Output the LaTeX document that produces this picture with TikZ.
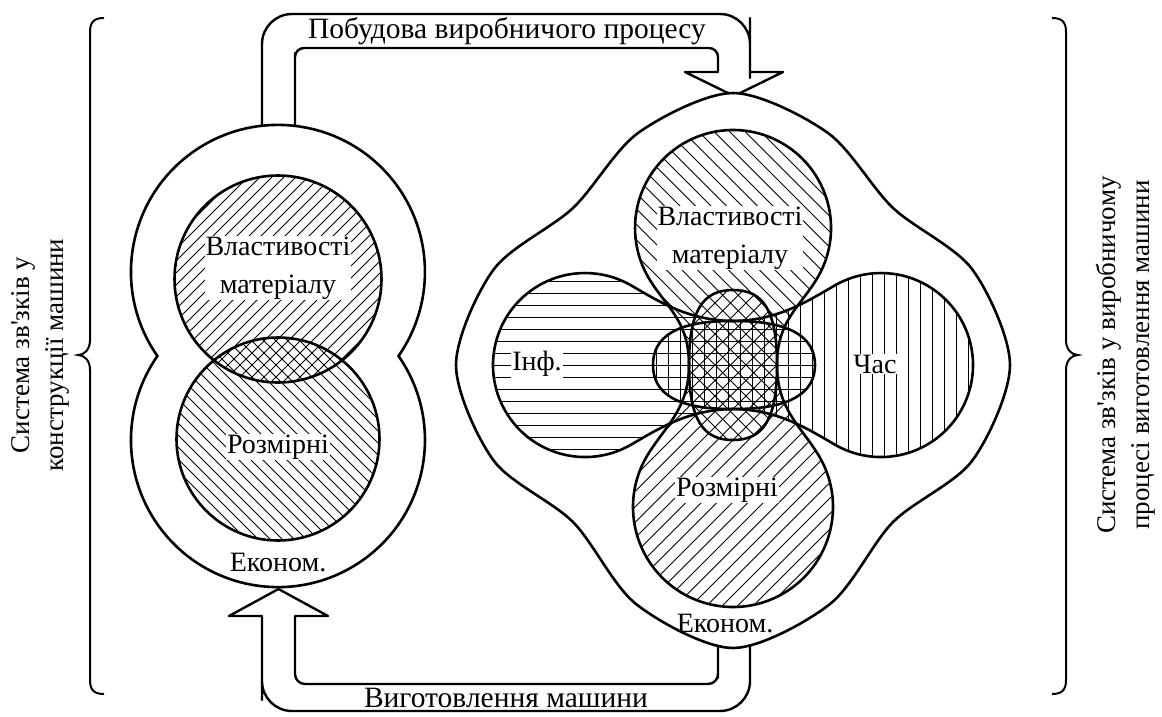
\documentclass[tikz,border=0pt]{standalone}
\usepackage{fontspec}
\setmainfont{Liberation Serif}
\newfontfamily\plainserif{Liberation Serif}
\newcommand\apos{{\plainserif'}}

% hatching: {cx}{cy}{half size}{step}{count}
\newcommand\hatchNE[5]{\foreach \k in {-#5,...,#5}{\draw[hatch] ({#1+\k*#4-#3},{#2+#3}) -- ({#1+\k*#4+#3},{#2-#3});}}
\newcommand\hatchNW[5]{\foreach \k in {-#5,...,#5}{\draw[hatch] ({#1+\k*#4-#3},{#2-#3}) -- ({#1+\k*#4+#3},{#2+#3});}}
\newcommand\hatchH[5]{\foreach \k in {-#5,...,#5}{\draw[hatch] ({#1-#3},{#2+\k*#4}) -- ({#1+#3},{#2+\k*#4});}}
\newcommand\hatchV[5]{\foreach \k in {-#5,...,#5}{\draw[hatch] ({#1+\k*#4},{#2-#3}) -- ({#1+\k*#4},{#2+#3});}}

% outlines of the left figure
\newcommand\eightpath{(157.4,356) arc[start angle=145.1,end angle=394.9,radius=147] arc[start angle=-34.9,end angle=214.9,radius=147] -- cycle}

% outlines of the right figure
\newcommand\infpath{(631,285.3) .. controls (661,302.8) and (690,321) .. (735,321) .. controls (790,321) and (815,337) .. (815,365) .. controls (815,393) and (790,409) .. (735,409) .. controls (690,409) and (661,427.2) .. (631,444.7) arc[start angle=60,end angle=300,radius=92] -- cycle}
\newcommand\chaspath{(835,285.3) .. controls (805,302.8) and (776,321) .. (731,321) .. controls (676,321) and (653,337) .. (653,365) .. controls (653,393) and (676,409) .. (731,409) .. controls (776,409) and (805,427.2) .. (835,444.7) arc[start angle=120,end angle=-120,radius=92] -- cycle}
\newcommand\matpath{(648.1,277) .. controls (665.6,307) and (689,320) .. (689,365) .. controls (689,420) and (703,440) .. (733,440) .. controls (763,440) and (777,420) .. (777,365) .. controls (777,320) and (800.4,307) .. (817.9,277) arc[start angle=30,end angle=-210,radius=98] -- cycle}
\newcommand\rozpath{(646.4,457) .. controls (664,427) and (689,410) .. (689,365) .. controls (689,310) and (703,290) .. (733,290) .. controls (763,290) and (777,310) .. (777,365) .. controls (777,410) and (802,427) .. (819.6,457) arc[start angle=-30,end angle=210,radius=100] -- cycle}

\begin{document}
\begin{tikzpicture}[x=1pt,y=-1pt,
  outline/.style={line width=2.6pt},
  hatch/.style={line width=0.8pt},
  band/.style={line width=2.4pt,line join=round},
  bracket/.style={line width=2pt},
  label/.style={fill=white,inner sep=1pt,align=center,font=\fontsize{28}{38}\selectfont},
  plain label/.style={inner sep=1pt,font=\fontsize{28}{38}\selectfont},
  band label/.style={inner sep=1pt,font=\fontsize{29.5}{34}\selectfont},
  side/.style={rotate=90,align=center,font=\fontsize{27}{34}\selectfont}]
  \useasboundingbox (0,0) rectangle (1162,716);

  % arrows between the figures
  \draw[band] (262,140) [rounded corners=30pt] -- (262,14) -- (750,14) -- (750,48) [sharp corners] -- (750,72) -- (783,72) -- (734,96) -- (685,72) -- (718,72) -- (718,64) [rounded corners=9pt] -- (718,48) -- (295,48) -- (295,62) [sharp corners] -- (295,140);
  \draw[band] (750,620) -- (750,670) [rounded corners=30pt] -- (750,711) -- (262,711) -- (262,670) [sharp corners] -- (262,616) -- (229,616) -- (278.5,589) -- (328,616) -- (295,616) -- (295,668) [rounded corners=10pt] -- (295,684) -- (718,684) -- (718,668) [sharp corners] -- (718,620);
  \node[band label] (build) at (507,31) {Побудова виробничого процесу};
  \node[band label] (make) at (506,698) {Виготовлення машини};

  % left figure
  \draw[outline,fill=white] \eightpath;
  \begin{scope}
    \clip (278,279) circle[radius=103.5];
    \hatchNE{278}{279}{110}{12}{19}
  \end{scope}
  \begin{scope}
    \clip (278,439) circle[radius=101.5];
    \hatchNW{278}{439}{110}{12}{19}
  \end{scope}
  \draw[outline] (278,279) circle[radius=103.5];
  \draw[outline] (278,439) circle[radius=101.5];
  \node[label] (matL) at (278,268) {Властивості\\матеріалу};
  \node[label] (rozL) at (278,447) {Розмірні};
  \node[plain label] (ekL) at (278,563) {Економ.};

  % right figure
  \draw[outline,fill=white] plot[smooth cycle] coordinates {(733,93) (828,133) (893,208) (972,269) (1010,365) (972,461) (893,522) (830,604) (733,648) (636,604) (573,522) (494,461) (456,365) (494,269) (573,208) (638,133)};
  \begin{scope}
    \clip \infpath;
    \hatchH{654}{365}{170}{12}{9}
  \end{scope}
  \begin{scope}
    \clip \chaspath;
    \hatchV{812}{365}{170}{12}{15}
  \end{scope}
  \begin{scope}
    \clip \matpath;
    \hatchNW{733}{290}{170}{15.5}{22}
  \end{scope}
  \begin{scope}
    \clip \rozpath;
    \hatchNE{733}{440}{170}{15.5}{22}
  \end{scope}
  \draw[outline] \infpath;
  \draw[outline] \chaspath;
  \draw[outline] \matpath;
  \draw[outline] \rozpath;
  \node[label] (matR) at (730,238) {Властивості\\матеріалу};
  \node[label] (inf) at (537,364) {Інф.};
  \node[label] (chas) at (875,364) {Час};
  \node[label] (rozR) at (727,490) {Розмірні};
  \node[plain label] (ekR) at (725,624) {Економ.};

  % braces and side texts
  \draw[bracket] (104,18) .. controls (94,18) and (90,22) .. (90,32) -- (90,340) .. controls (90,350) and (84,355) .. (78,355) .. controls (84,355) and (90,360) .. (90,370) -- (90,680) .. controls (90,690) and (94,694) .. (104,694);
  \draw[bracket] (1052,18) .. controls (1062,18) and (1066,22) .. (1066,32) -- (1066,340) .. controls (1066,350) and (1072,355) .. (1078,355) .. controls (1072,355) and (1066,360) .. (1066,370) -- (1066,680) .. controls (1066,690) and (1062,694) .. (1052,694);
  \node[side] (leftsys) at (40,355) {Система зв\apos зків у\\конструкції машини};
  \node[side] (rightsys) at (1126,355) {Система зв\apos зків у виробничому\\процесі виготовлення машини};
\end{tikzpicture}
\end{document}
